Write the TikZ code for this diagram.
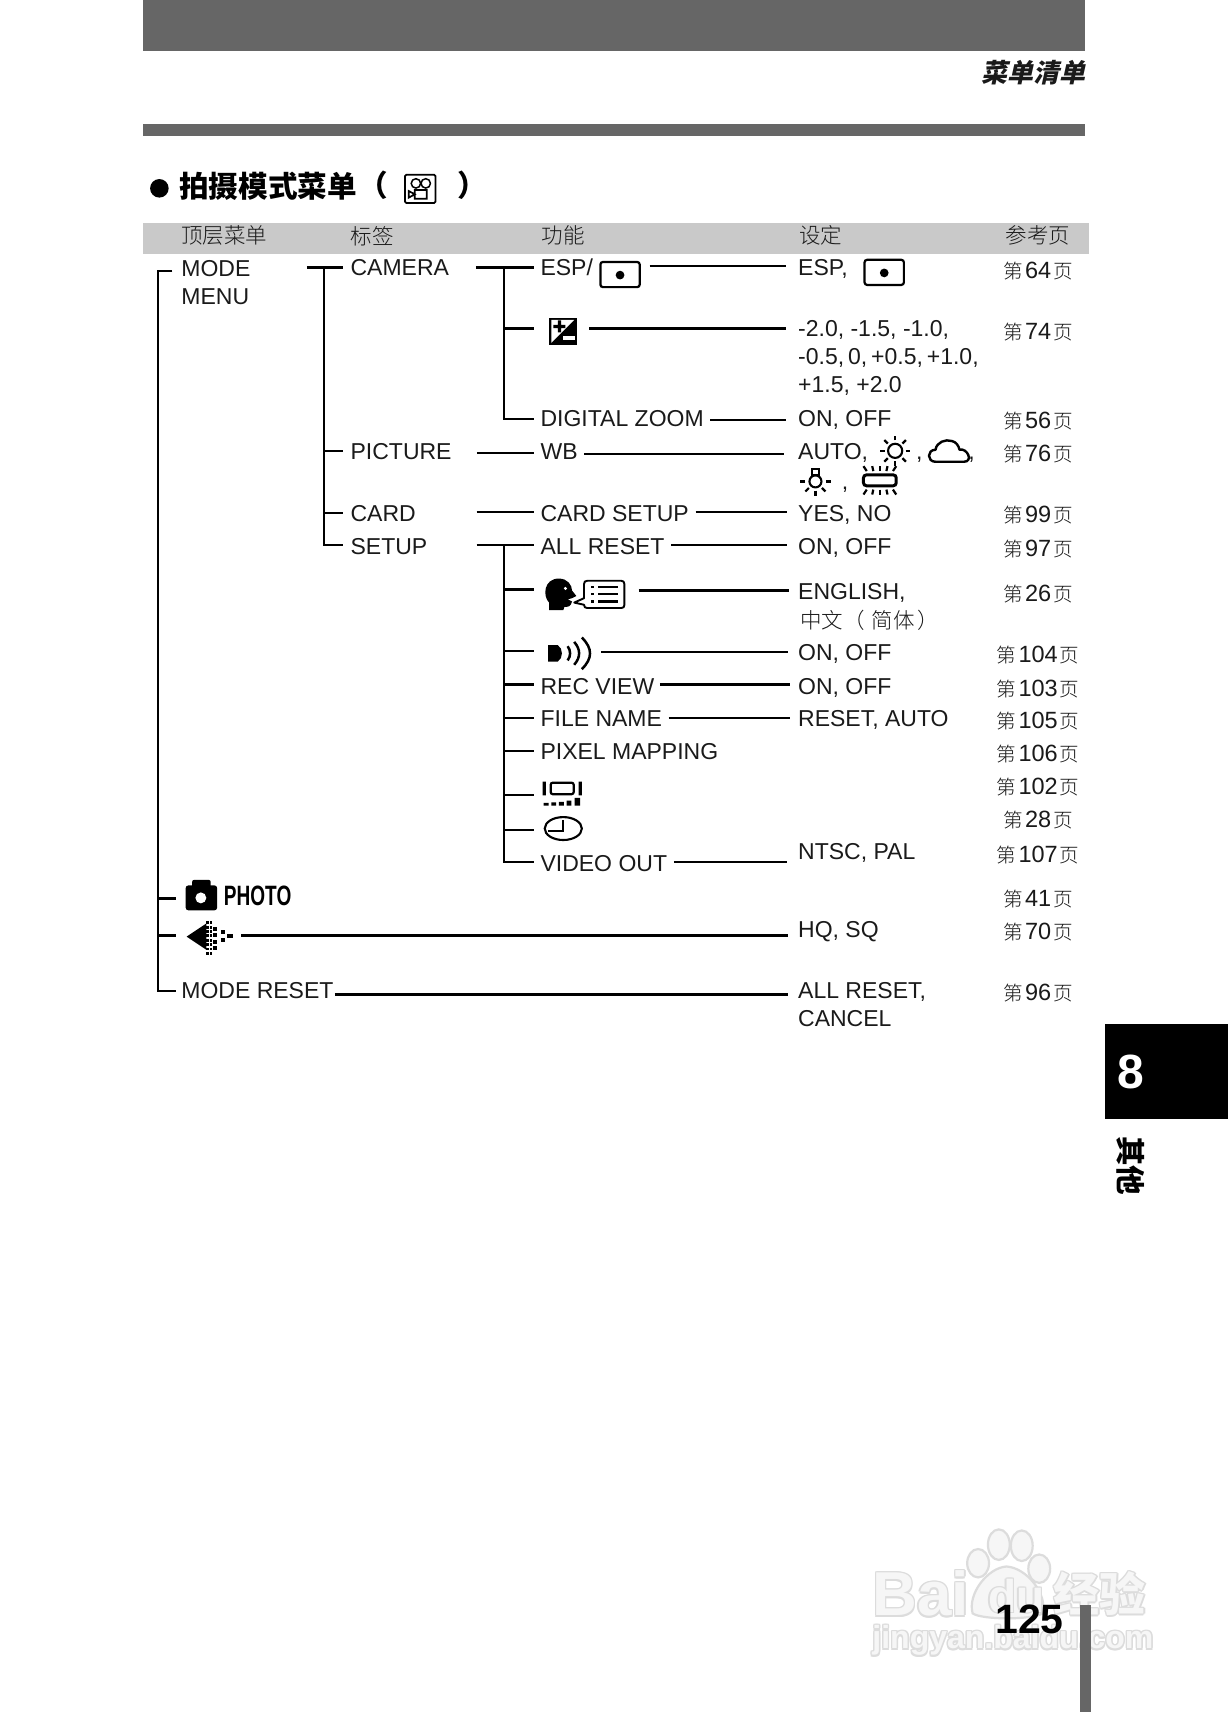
\documentclass[tikz,border=0pt]{standalone}
\usepackage{fontspec}
\setmainfont{Liberation Sans}
\newfontfamily\cjk{Noto Sans CJK SC}
\newfontfamily\cjkl{Noto Sans CJK SC Light}
\newfontfamily\narrowb[FakeStretch=0.68]{Liberation Sans}
\definecolor{bar}{HTML}{666666}
\definecolor{band}{HTML}{C9C9C9}
\definecolor{ink}{HTML}{1A1A1A}
\definecolor{wm}{HTML}{DCDCDC}
\definecolor{wmin}{HTML}{F6F6F6}
\newcommand\pgr[1]{{\cjkl\fontsize{19.6}{20}\selectfont 第}\hspace{2pt}#1\hspace{2pt}{\cjkl\fontsize{19.6}{20}\selectfont 页}}
\tikzset{
  lbl/.style={anchor=west,inner sep=0pt,text height=17pt,text depth=0pt,text=ink,font=\fontsize{23}{28}\selectfont},
  lblm/.style={anchor=north west,inner sep=0pt,align=left,text=ink,font=\fontsize{23}{28}\selectfont},
  hdr/.style={anchor=west,inner sep=0pt,text=ink,font=\cjkl\fontsize{21.5}{24}\selectfont},
  pgref/.style={anchor=center,inner sep=0pt,text height=17pt,text depth=0pt,text=ink,font=\fontsize{23.5}{28}\selectfont},
  ln/.style={line width=2.2pt,black},
  lnb/.style={line width=3.3pt,black},
  ic/.style={line width=2.2pt,black},
  ray/.style={line width=2.2pt,black},
  cw/.style={inner sep=0pt,font=\bfseries\fontsize{#1}{#1}\selectfont},
}
\newcommand\iconmeter{\draw[ic,rounded corners=2.5pt] (0,0) rectangle (36,23); \fill (18,12) circle (4);}
\begin{document}
\begin{tikzpicture}[x=1.0916pt,y=-1.0916pt]
\useasboundingbox (0,0) rectangle (1125,1568.3);
\fill[white] (0,0) rectangle (1125,1568.3);
% ---- watermark
\begin{scope}[wm,line width=2.2pt,fill=wmin]
\filldraw (915,1415) ellipse (10 and 14);
\filldraw (936,1416) ellipse (10 and 14);
\filldraw (896,1432) ellipse (10 and 13);
\filldraw (952,1437) ellipse (10 and 13);
\filldraw (891,1478) .. controls (886,1460) and (905,1436) .. (922,1435) .. controls (940,1436) and (960,1460) .. (955,1478) .. controls (945,1484) and (900,1484) .. cycle;
\end{scope}
\foreach \dx/\dy [count=\i] in {-1.3/0,1.3/0,0/-1.3,0/1.3,-1/-1,1/-1,-1/1,1/1}{
  \node[cw=62,text=wm,anchor=west] (wa\i) at (799+\dx,1460+\dy) {Bai};
  \node[cw=46,text=wm,anchor=center] (wb\i) at (931+\dx,1462+\dy) {du};
  \node[cw=46,text=wm,anchor=west] (wc\i) at (965+\dx,1460+\dy) {\cjk 经验};
  \node[cw=32,text=wm,anchor=west] (wd\i) at (799+\dx,1503+\dy) {jingyan.baidu.com};
}
\node[cw=62,text=wmin,anchor=west] (wa) at (799,1460) {Bai};
\node[cw=46,text=wmin,anchor=center] (wb) at (931,1462) {du};
\node[cw=46,text=wmin,anchor=west] (wc) at (965,1460) {\cjk 经验};
\node[cw=32,text=wmin,anchor=west] (wd) at (799,1503) {jingyan.baidu.com};
% ---- page furniture
\fill[bar] (131,0) rectangle (994,47);
\fill[bar] (131,113.5) rectangle (994,124.5);
\fill[band] (131,204) rectangle (998,233);
\node[anchor=east,inner sep=0pt,xslant=0.22,text=ink,font=\cjk\bfseries\fontsize{26}{26}\selectfont] (section) at (996.5,67) {菜单清单};
\fill[black] (146,172.5) circle (8.5);
\node[anchor=west,inner sep=0pt,text=black,font=\cjk\bfseries\fontsize{29.6}{30}\selectfont] (title) at (164,171) {拍摄模式菜单};
\node[anchor=center,inner sep=0pt,font=\cjk\bfseries\fontsize{29.6}{30}\selectfont] (po) at (342,170) {（};
\node[anchor=center,inner sep=0pt,font=\cjk\bfseries\fontsize{29.6}{30}\selectfont] (pc) at (433,170) {）};
\begin{scope}[shift={(371,160)}]
\draw[line width=1.8pt,rounded corners=1.5pt] (0,0) rectangle (28,26);
\draw[line width=1.5pt] (10,8) circle (4.3) (19,8) circle (4.3);
\draw[line width=1.7pt] (9,14) rectangle (20,22) (9,18) -- (3.5,15) -- (3.5,21) -- cycle;
\end{scope}
\node[hdr] (h1) at (166,216) {顶层菜单};
\node[hdr] (h2) at (321,216) {标签};
\node[hdr] (h3) at (496,216) {功能};
\node[hdr] (h4) at (732,216) {设定};
\node[hdr] (h5) at (921,216) {参考页};
% ---- first column
\node[lblm] (mode) at (166,238) {MODE\\MENU};
\node[lbl] (reset) at (166,907) {MODE RESET};
% ---- second column
\node[lbl] (camera) at (321,245) {CAMERA};
\node[lbl] (picture) at (321,413) {PICTURE};
\node[lbl] (card) at (321,470) {CARD};
\node[lbl] (setup) at (321,500) {SETUP};
% ---- third column
\node[lbl] (esp) at (495,245) {ESP/};
\node[lbl] (zoom) at (495,383) {DIGITAL ZOOM};
\node[lbl] (wb) at (495,413) {WB};
\node[lbl] (cardset) at (495,470) {CARD SETUP};
\node[lbl] (allreset) at (495,500) {ALL RESET};
\node[lbl] (recview) at (495,628) {REC VIEW};
\node[lbl] (fname) at (495,658) {FILE NAME};
\node[lbl] (pixmap) at (495,688) {PIXEL MAPPING};
\node[lbl] (vidout) at (495,791) {VIDEO OUT};
% ---- fourth column
\node[lbl] (vesp) at (731,245) {ESP,};
\node[lblm] (vev) at (731,293) {-2.0, -1.5, -1.0,\\-0.5,\hspace{3.9pt}0,\hspace{3.9pt}+0.5,\hspace{3.9pt}+1.0,\\+1.5, +2.0};
\node[lbl] (vzoom) at (731,383) {ON, OFF};
\node[lbl] (vwb) at (731,413) {AUTO,};
\node[lbl] (vc1) at (839,413) {,};
\node[lbl] (vc2) at (887,413) {,};
\node[lbl] (vc3) at (771,441) {,};
\node[lbl] (vcard) at (731,470) {YES, NO};
\node[lbl] (vall) at (731,500) {ON, OFF};
\node[lbl] (veng) at (731,541) {ENGLISH,};
\node[anchor=west,inner sep=0pt,text=ink,font=\cjkl\fontsize{21.5}{24}\selectfont] (vzh) at (733,568) {中文（\hspace{7pt}简体\hspace{3pt}）};
\node[lbl] (vsnd) at (731,597) {ON, OFF};
\node[lbl] (vrec) at (731,628) {ON, OFF};
\node[lbl] (vfile) at (731,658) {RESET, AUTO};
\node[lbl] (vvid) at (731,780) {NTSC, PAL};
\node[lbl] (vq) at (731,851) {HQ, SQ};
\node[lblm] (vreset) at (731,900) {ALL RESET,\\CANCEL};
% ---- page references
\node[pgref] (p64) at (951,247) {\pgr{64}};
\node[pgref] (p74) at (951,303) {\pgr{74}};
\node[pgref] (p56) at (951,385) {\pgr{56}};
\node[pgref] (p76) at (951,415) {\pgr{76}};
\node[pgref] (p99) at (951,471) {\pgr{99}};
\node[pgref] (p97) at (951,502) {\pgr{97}};
\node[pgref] (p26) at (951,543) {\pgr{26}};
\node[pgref] (p104) at (951,599) {\pgr{104}};
\node[pgref] (p103) at (951,630) {\pgr{103}};
\node[pgref] (p105) at (951,660) {\pgr{105}};
\node[pgref] (p106) at (951,690) {\pgr{106}};
\node[pgref] (p102) at (951,720) {\pgr{102}};
\node[pgref] (p28) at (951,750) {\pgr{28}};
\node[pgref] (p107) at (951,782) {\pgr{107}};
\node[pgref] (p41) at (951,823) {\pgr{41}};
\node[pgref] (p70) at (951,853) {\pgr{70}};
\node[pgref] (p96) at (951,909) {\pgr{96}};
% ---- named connector ends
\coordinate (rtop) at (158,248);
\coordinate (rphoto) at (161,823);
\coordinate (rqual) at (161,857);
\coordinate (mcam) at (281,245);
\coordinate (spine2) at (297,245);
\coordinate (tcam) at (436,245);
\coordinate (spine3) at (462,245);
\coordinate (iev) at (540,301);
\coordinate (tev) at (489,301);
\coordinate (ilang) at (585,541);
\coordinate (tlang) at (489,540);
\coordinate (isnd) at (551,597);
\coordinate (tsnd) at (489,596);
\coordinate (tmon) at (489,728);
\coordinate (tclk) at (489,760);
\coordinate (iq) at (221,857);
\coordinate (imeter) at (595,244);
% ---- tree: root
\draw[ln] (rtop) -| (145,908) -- ([shift={(-5,1)}]reset.west);
\draw[ln] (145,823) -- (rphoto);
\draw[ln] (145,857) -- (rqual);
% ---- tree: second level
\draw[ln] (mcam) -- ([shift={(-7,0)}]camera.west);
\draw[ln] (spine2) -- (297,499) -- ([shift={(-7,-1)}]setup.west);
\draw[ln] (297,413) -- ([shift={(-7,0)}]picture.west);
\draw[ln] (297,470) -- ([shift={(-7,0)}]card.west);
% ---- tree: third level
\draw[ln] (tcam) -- ([shift={(-6,0)}]esp.west);
\draw[ln] (spine3) -- (462,384) -- ([shift={(-6,1)}]zoom.west);
\draw[ln] (462,301) -- (tev);
\draw[ln] ([shift={(23,2)}]picture.east) -- ([shift={(-6,2)}]wb.west);
\draw[ln] ([shift={(45,-1)}]setup.east |- card.east) -- ([shift={(-6,-1)}]cardset.west);
\draw[ln] ([shift={(45,-1)}]setup.east) -- ([shift={(-6,-1)}]allreset.west);
\draw[ln] (462,499) -- (462,790) -- ([shift={(-6,-1)}]vidout.west);
\draw[ln] (462,540) -- (tlang);
\draw[ln] (462,596) -- (tsnd);
\draw[ln] (462,627) -- ([shift={(-6,-1)}]recview.west);
\draw[ln] (462,658) -- ([shift={(-6,0)}]fname.west);
\draw[ln] (462,688) -- ([shift={(-6,0)}]pixmap.west);
\draw[ln] (462,728) -- (tmon);
\draw[ln] (462,760) -- (tclk);
% ---- fourth level
\draw[ln] (imeter) -- ([shift={(-11,-1)}]vesp.west);
\draw[ln] (iev) -- ([shift={(-11,0)}]vev.west |- iev);
\draw[ln] ([shift={(6,2)}]zoom.east) -- ([shift={(-11,2)}]vzoom.west);
\draw[ln] ([shift={(6,3)}]wb.east) -- ([shift={(-13,3)}]vwb.west);
\draw[ln] ([shift={(6,-1)}]cardset.east) -- ([shift={(-10,-1)}]vcard.west);
\draw[ln] ([shift={(6,-1)}]allreset.east) -- ([shift={(-10,-1)}]vall.west);
\draw[ln] (ilang) -- ([shift={(-8,0)}]veng.west);
\draw[ln] (isnd) -- ([shift={(-9,0)}]vsnd.west);
\draw[lnb] ([shift={(5,-1)}]recview.east) -- ([shift={(-7,-1)}]vrec.west);
\draw[ln] ([shift={(6,0)}]fname.east) -- ([shift={(-7,0)}]vfile.west);
\draw[ln] ([shift={(6,-1)}]vidout.east) -- ([shift={(-10,10)}]vvid.west);
\draw[ln] (iq) -- ([shift={(-9,6)}]vq.west);
\draw[ln] ([shift={(1,4)}]reset.east) -- ([shift={(-9,4)}]vreset.west |- reset.east);
% ---- metering icons
\begin{scope}[shift={(550,240)}]\iconmeter\end{scope}
\begin{scope}[shift={(792,238)}]\iconmeter\end{scope}
% ---- exposure compensation icon
\begin{scope}[shift={(503,291)}]
\fill[black] (0,0) rectangle (26,25);
\fill[white] (2,2) -- (23,2) -- (2,23) -- cycle;
\fill[black] (4,6.5) rectangle (15,9.5) (8,2.5) rectangle (11,13.5);
\fill[white] (13,17) rectangle (24,20);
\end{scope}
% ---- sun
\begin{scope}[shift={(820,413)}]
\draw[line width=2.1pt] (0,0) circle (6.5);
\foreach \a in {0,45,...,315}{\draw[ray] (\a:9.5) -- (\a:14);}
\end{scope}
% ---- cloud
\draw[line width=2.4pt,line join=round] (857,423) .. controls (849,423) and (849,412) .. (857,412) .. controls (858,405) and (866,402) .. (872,404) .. controls (876,405) and (878,408) .. (879,412) .. controls (886,410) and (892,423) .. (883,423) -- cycle;
% ---- bulb
\begin{scope}[shift={(747,441)}]
\draw[line width=2.1pt] (0,0) circle (5.5);
\draw[line width=2pt] (-3.5,-5.5) rectangle (3.5,-11.5);
\foreach \a in {0,180}{\draw[ray] (\a:9.5) -- (\a:14);}
\foreach \a in {45,90,135}{\draw[ray] (\a:8.5) -- (\a:13);}
\end{scope}
% ---- fluorescent
\begin{scope}[shift={(806,440)}]
\draw[line width=3pt,rounded corners=3pt] (-15,-5) rectangle (15,5);
\foreach \x/\t in {-12/-3,-6/-1,0/0,6/1,12/3}{
\draw[ray] (\x,-8.5) -- (\x+\t,-13);
\draw[ray] (\x,8.5) -- (\x+\t,13);}
\end{scope}
% ---- language icon
\fill[black] (503,559) -- (503,552) .. controls (497,546) and (498,530) .. (512,530) .. controls (520,530) and (524,536) .. (524,541) -- (528,546) -- (524,548) -- (520,549) -- (524,551) .. controls (523,556) and (520,556) .. (517,556) -- (516,559) -- cycle;
\fill[white] (518,539) circle (1.5);
\draw[line width=1.9pt,line join=round,fill=white] (526,552) -- (535,548) -- (535,535) .. controls (535,533) and (536,532) .. (538,532) -- (569,532) .. controls (571,532) and (572,533) .. (572,535) -- (572,554) .. controls (572,556) and (571,557) .. (569,557) -- (538,557) .. controls (536,557) and (535,556) .. (535,554) -- cycle;
\foreach \y in {538,544.5,551}{
\fill[black] (541,\y-1) rectangle (544,\y+1);
\fill[black] (548,\y-1) rectangle (566,\y+1);}
% ---- beep icon
\fill[black] (502,591) -- (511,591) .. controls (516,594) and (516,603) .. (511,606) -- (502,606) -- cycle;
\draw[line width=2.5pt] (520,592) .. controls (523,596) and (523,601) .. (520,605);
\draw[line width=2.5pt] (526,588) .. controls (532,595) and (532,602) .. (526,609);
\draw[line width=2.5pt] (533,584) .. controls (543,594) and (543,603) .. (533,613);
% ---- monitor icon
\begin{scope}[shift={(497,715)}]
\fill (0,1) rectangle (3,13.5) (33,1) rectangle (36,13.5);
\draw[line width=2.2pt,rounded corners=2pt] (7.5,2) rectangle (28.5,12.5);
\fill (1,20.5) rectangle (5.5,23) (8,20) rectangle (12.5,23) (15,19.5) rectangle (19.5,23) (22,18.5) rectangle (26.5,23) (29.5,16) rectangle (34.5,23);
\end{scope}
% ---- clock icon
\draw[line width=2.1pt] (516,759) ellipse (17 and 10.5);
\draw[line width=2.1pt] (516,751) -- (516,761) -- (502,761);
% ---- PHOTO row
\fill[black,rounded corners=3pt] (170,811) rectangle (199,834);
\fill[black,rounded corners=2pt] (176,806) rectangle (193,815);
\fill[white] (184,822.5) circle (5);
\node[anchor=west,inner sep=0pt,text=black,font=\narrowb\bfseries\fontsize{28}{28}\selectfont] (photo) at (205,821) {PHOTO};
% ---- quality icon
\fill[black] (171,858) -- (189,846) -- (189,870) -- cycle;
\foreach \x in {189,192}{\foreach \y in {0,1,2,3,4,5,6,7}{
  \fill[black] (\x,844+\y*4) rectangle (\x+2,844+\y*4+2.6);
}}
\foreach \y in {849,855,861,867}{\fill[black] (195,\y) rectangle (199,\y+3.6);}
\foreach \y in {852,859}{\fill[black] (202,\y) rectangle (206,\y+3.6);}
\fill[black] (208,855.5) rectangle (213,859.5);
% ---- side tab
\fill[black] (1012,938) rectangle (1125,1025);
\node[anchor=center,inner sep=0pt,text=white,font=\bfseries\fontsize{48}{48}\selectfont] (chap) at (1036,982) {8};
\node[anchor=center,inner sep=0pt,rotate=-90,text=black,font=\cjk\bfseries\fontsize{29.5}{30}\selectfont] (chapname) at (1036,1068) {其他};
% ---- folio
\fill[bar] (989,1470) rectangle (999,1568.3);
\node[anchor=center,inner sep=0pt,text=black,font=\bfseries\fontsize{41}{41}\selectfont] (folio) at (943,1483) {125};
\end{tikzpicture}
\end{document}
